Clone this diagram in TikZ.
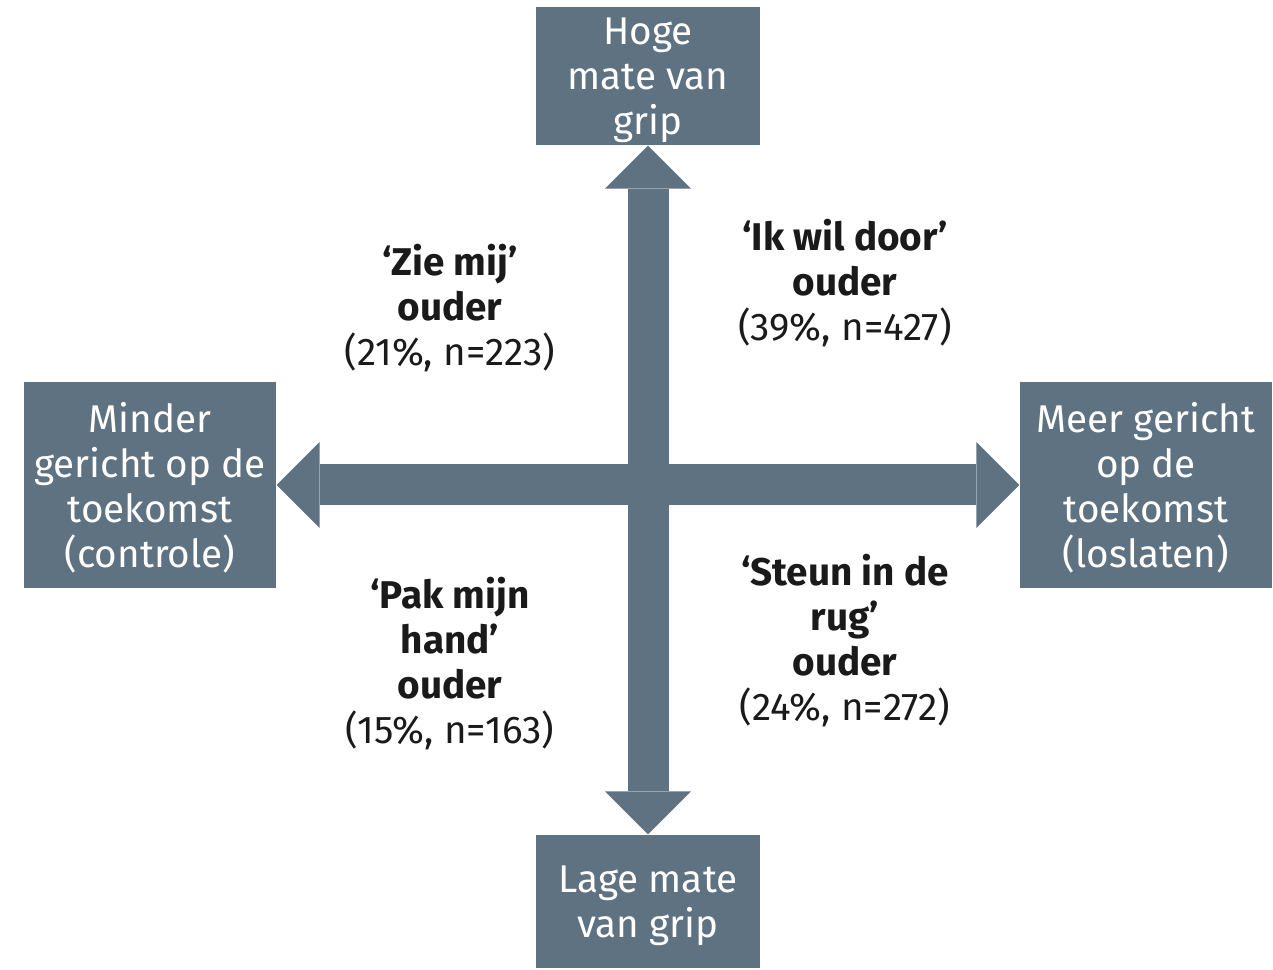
\documentclass[tikz,border=0pt]{standalone}
\usepackage{fontspec}
\setmainfont{Fira Sans}
\usepackage{xcolor}
\usetikzlibrary{arrows.meta, positioning}

\definecolor{slate}{HTML}{5F7282}
\definecolor{inkdark}{HTML}{1A1A1A}

\begin{document}
\begin{tikzpicture}[
		% Defining consistent styles
		axisbox/.style={
				rectangle,
				fill=slate,
				text=white,
				inner sep=0pt,
				text depth=0pt,
				align=center,
				font=\fontsize{11}{12.8}\selectfont
			},
		typelabel/.style={
				align=center,
				text=inkdark,
				inner sep=0pt,
				font=\fontsize{11}{12.8}\selectfont
			},
		% Defining arrow styles
		axisarrow/.style={
				{Triangle[length=4.3mm,width=8.6mm,line width=0pt]}-{Triangle[length=4.3mm,width=8.6mm,line width=0pt]},
				line width=4.1mm,
				draw=slate
			}
	]
	\useasboundingbox (0,0) rectangle (12.73,9.70);

	% Axis boxes
	\node[axisbox, minimum width=2.24cm, minimum height=1.38cm] (high_grip) at (6.48,8.94) {Hoge\\mate van\\grip};
	\node[axisbox, minimum width=2.24cm, minimum height=1.33cm] (low_grip) at (6.48,0.685) {Lage mate\\van grip};
	\node[axisbox, minimum width=2.52cm, minimum height=2.06cm] (less_future) at (1.50,4.85) {Minder\\gericht op de\\toekomst\\(controle)};
	\node[axisbox, minimum width=2.52cm, minimum height=2.06cm] (more_future) at (11.46,4.85) {Meer gericht\\op de\\toekomst\\(loslaten)};

	% Parent types
	\node[typelabel] (zie_mij) at (4.50,6.62) {\textbf{‘Zie mij’}\\\textbf{ouder}\\(21\%, n=223)};
	\node[typelabel] (wil_door) at (8.45,6.87) {\textbf{‘Ik wil door’}\\\textbf{ouder}\\(39\%, n=427)};
	\node[typelabel] (pak_hand) at (4.50,3.065) {\textbf{‘Pak mijn}\\\textbf{hand’}\\\textbf{ouder}\\(15\%, n=163)};
	\node[typelabel] (steun_rug) at (8.45,3.29) {\textbf{‘Steun in de}\\\textbf{rug’}\\\textbf{ouder}\\(24\%, n=272)};

	% Drawing axis arrows
	\draw[axisarrow] (high_grip.south) -- (low_grip.north);
	\draw[axisarrow] (less_future.east) -- (more_future.west);

\end{tikzpicture}
\end{document}
